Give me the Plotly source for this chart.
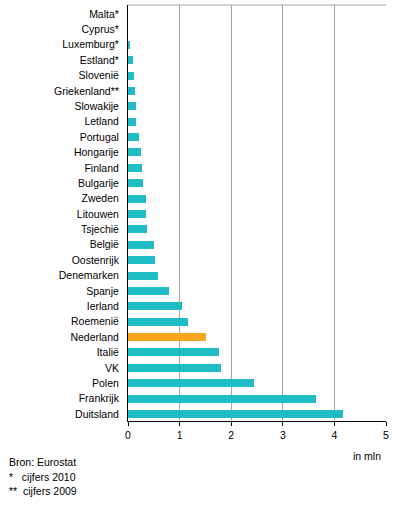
import plotly.graph_objects as go

countries = ["Malta*", "Cyprus*", "Luxemburg*", "Estland*", "Slovenië", "Griekenland**",
             "Slowakije", "Letland", "Portugal", "Hongarije", "Finland", "Bulgarije",
             "Zweden", "Litouwen", "Tsjechië", "België", "Oostenrijk", "Denemarken",
             "Spanje", "Ierland", "Roemenië", "Nederland", "Italië", "VK", "Polen",
             "Frankrijk", "Duitsland"]
values = [0.0, 0.0, 0.02, 0.09, 0.11, 0.13, 0.15, 0.15, 0.22, 0.25, 0.28, 0.30,
          0.34, 0.34, 0.36, 0.50, 0.52, 0.58, 0.79, 1.04, 1.16, 1.51, 1.76, 1.80,
          2.44, 3.65, 4.17]
x_ticks = [0, 1, 2, 3, 4, 5]
highlight = "Nederland"

teal = "rgb(32,188,198)"
orange = "rgb(247,166,30)"
colors = [orange if c == highlight else teal for c in countries]

fig = go.Figure(go.Bar(
    x=values, y=countries, orientation="h",
    marker=dict(color=colors, line=dict(width=0)),
    width=0.52, hoverinfo="x+y",
))

fig.update_layout(
    width=396, height=511,
    margin=dict(l=128, r=10, t=5, b=90),
    plot_bgcolor="white", paper_bgcolor="white",
    font=dict(family="Liberation Sans, Arial, sans-serif", size=10.5, color="black"),
    showlegend=False,
    bargap=0,
)
fig.update_xaxes(
    range=[0, 5], tickvals=x_ticks, ticktext=[str(t) for t in x_ticks],
    showgrid=True, gridcolor="#a6a6a6", gridwidth=1,
    showline=True, linecolor="black", linewidth=1,
    ticks="outside", ticklen=4, tickcolor="black",
    zeroline=False, fixedrange=True, automargin=False,
)
fig.update_yaxes(
    range=[26.455, -0.585], categoryorder="array", categoryarray=countries,
    showgrid=False, showline=True, linecolor="black", linewidth=1,
    ticks="", ticklabelstandoff=6, fixedrange=True, automargin=False,
)
# top border
fig.add_shape(type="line", xref="paper", yref="paper", x0=0, x1=1, y0=1, y1=1,
              line=dict(color="#a6a6a6", width=1))

fig.add_annotation(text="in mln", xref="paper", yref="paper", x=1, y=0,
                   xanchor="right", yanchor="top", yshift=-27, xshift=-3,
                   showarrow=False, font=dict(size=10.5))
for i, t in enumerate(["Bron: Eurostat", "*   cijfers 2010", "**  cijfers 2009"]):
    fig.add_annotation(text=t, xref="paper", yref="paper", x=0, y=0,
                       xanchor="left", yanchor="top", xshift=-121, yshift=-33 - 14.5 * i,
                       showarrow=False, font=dict(size=10.5), align="left")

fig.write_html("out.html", config={"displayModeBar": False},
               post_script="document.body.style.margin='0';document.body.style.overflow='hidden';")
